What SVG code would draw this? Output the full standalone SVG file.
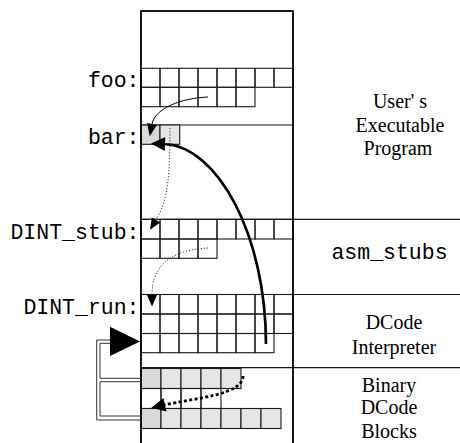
<svg xmlns="http://www.w3.org/2000/svg" width="460" height="443" viewBox="0 0 460 443">
  <style>
    .cell { fill: none; stroke: #1a1a1a; stroke-width: 1.1; }
    .g1 { fill: #d9d9d9; stroke: #1a1a1a; stroke-width: 1.1; }
    .g2 { fill: #e6e6e6; stroke: #1a1a1a; stroke-width: 1.1; }
    .rule { fill: none; stroke: #1a1a1a; stroke-width: 1.2; }
    .frame { fill: none; stroke: #000; stroke-width: 1.8; }
    .mono { font-family: "Liberation Mono", "Courier New", monospace; font-size: 21.5px; fill: #000; }
    .serif { font-family: "Liberation Serif", "Times New Roman", serif; font-size: 20px; fill: #000; text-anchor: middle; }
    .bracket { fill: none; stroke: #333; stroke-width: 1; }
    .thin { fill: none; stroke: #000; stroke-width: 1; }
    .dots { fill: none; stroke: #333; stroke-width: 1; stroke-dasharray: 1.2 1.8; }
    .thick { fill: none; stroke: #000; stroke-width: 2.7; }
    .thickdots { fill: none; stroke: #000; stroke-width: 2.8; stroke-dasharray: 3 2.4; }
  </style>
  <defs>
    <marker id="headThin" markerUnits="userSpaceOnUse" markerWidth="13" markerHeight="12" refX="0" refY="0" orient="auto" overflow="visible">
      <path d="M0,-5 L12.5,0 L0,5 z" fill="#000"/>
    </marker>
    <marker id="headDot" markerUnits="userSpaceOnUse" markerWidth="12" markerHeight="12" refX="0" refY="0" orient="auto" overflow="visible">
      <path d="M0,-5 L11.5,0 L0,5 z" fill="#000"/>
    </marker>
    <marker id="headThick" markerUnits="userSpaceOnUse" markerWidth="14" markerHeight="14" refX="0" refY="0" orient="auto" overflow="visible">
      <path d="M-1,-7 L13,0 L-1,7 z" fill="#000"/>
    </marker>
  </defs>

  <!-- user's executable program: foo and bar -->
  <g id="program">
    <g id="foo">
      <rect class="cell" x="141" y="68.3" width="19" height="19"/>
      <rect class="cell" x="160" y="68.3" width="19" height="19"/>
      <rect class="cell" x="179" y="68.3" width="19" height="19"/>
      <rect class="cell" x="198" y="68.3" width="19" height="19"/>
      <rect class="cell" x="217" y="68.3" width="19" height="19"/>
      <rect class="cell" x="236" y="68.3" width="19" height="19"/>
      <rect class="cell" x="255" y="68.3" width="19" height="19"/>
      <rect class="cell" x="274" y="68.3" width="19" height="19"/>
      <rect class="cell" x="141" y="87.3" width="19" height="19.4"/>
      <rect class="cell" x="160" y="87.3" width="19" height="19.4"/>
      <rect class="cell" x="179" y="87.3" width="19" height="19.4"/>
      <rect class="cell" x="198" y="87.3" width="19" height="19.4"/>
      <rect class="cell" x="217" y="87.3" width="19" height="19.4"/>
      <rect class="cell" x="236" y="87.3" width="19" height="19.4"/>
      <text class="mono" x="139.5" y="86.5" text-anchor="end">foo:</text>
    </g>
    <g id="bar">
      <path class="rule" d="M141 125 H293"/>
      <rect class="g1" x="141" y="125" width="19" height="19.3"/>
      <rect class="g2" x="160" y="125" width="19.7" height="19.3"/>
      <text class="mono" x="139.5" y="143.5" text-anchor="end">bar:</text>
    </g>
    <text class="serif" x="400" y="108.3">User' s</text>
    <text class="serif" x="400" y="131.7">Executable</text>
    <text class="serif" x="398" y="155">Program</text>
  </g>

  <!-- assembly stubs -->
  <g id="asm_stubs">
    <path class="rule" d="M141 219.3 H460"/>
    <rect class="cell" x="141" y="219.3" width="19" height="19.7"/>
    <rect class="cell" x="160" y="219.3" width="19" height="19.7"/>
    <rect class="cell" x="179" y="219.3" width="19" height="19.7"/>
    <rect class="cell" x="198" y="219.3" width="19" height="19.7"/>
    <rect class="cell" x="217" y="219.3" width="19" height="19.7"/>
    <rect class="cell" x="236" y="219.3" width="19" height="19.7"/>
    <rect class="cell" x="255" y="219.3" width="19" height="19.7"/>
    <rect class="cell" x="274" y="219.3" width="19" height="19.7"/>
    <rect class="cell" x="141" y="239" width="19" height="19.3"/>
    <rect class="cell" x="160" y="239" width="19" height="19.3"/>
    <rect class="cell" x="179" y="239" width="19" height="19.3"/>
    <rect class="cell" x="198" y="239" width="19" height="19.3"/>
    <text class="mono" x="139.5" y="238.5" text-anchor="end">DINT_stub:</text>
    <text class="mono" x="389.5" y="259.3" text-anchor="middle">asm_stubs</text>
  </g>

  <!-- DCode interpreter -->
  <g id="interpreter">
    <path class="rule" d="M141 294.5 H460"/>
    <rect class="cell" x="141" y="294.5" width="19" height="19.5"/>
    <rect class="cell" x="160" y="294.5" width="19" height="19.5"/>
    <rect class="cell" x="179" y="294.5" width="19" height="19.5"/>
    <rect class="cell" x="198" y="294.5" width="19" height="19.5"/>
    <rect class="cell" x="217" y="294.5" width="19" height="19.5"/>
    <rect class="cell" x="236" y="294.5" width="19" height="19.5"/>
    <rect class="cell" x="255" y="294.5" width="19" height="19.5"/>
    <rect class="cell" x="274" y="294.5" width="19" height="19.5"/>
    <rect class="cell" x="141" y="314" width="19" height="19.5"/>
    <rect class="cell" x="160" y="314" width="19" height="19.5"/>
    <rect class="cell" x="179" y="314" width="19" height="19.5"/>
    <rect class="cell" x="198" y="314" width="19" height="19.5"/>
    <rect class="cell" x="217" y="314" width="19" height="19.5"/>
    <rect class="cell" x="236" y="314" width="19" height="19.5"/>
    <rect class="cell" x="255" y="314" width="19" height="19.5"/>
    <rect class="cell" x="274" y="314" width="19" height="19.5"/>
    <rect class="cell" x="141" y="333.5" width="19" height="19.2"/>
    <rect class="cell" x="160" y="333.5" width="19" height="19.2"/>
    <rect class="cell" x="179" y="333.5" width="19" height="19.2"/>
    <rect class="cell" x="198" y="333.5" width="19" height="19.2"/>
    <rect class="cell" x="217" y="333.5" width="19" height="19.2"/>
    <rect class="cell" x="236" y="333.5" width="19" height="19.2"/>
    <rect class="cell" x="255" y="333.5" width="19" height="19.2"/>
    <text class="mono" x="139.5" y="313.5" text-anchor="end">DINT_run:</text>
    <text class="serif" x="394" y="329.3">DCode</text>
    <text class="serif" x="394" y="354">Interpreter</text>
  </g>

  <!-- binary DCode blocks -->
  <g id="blocks">
    <path class="rule" d="M141 367.7 H460"/>
    <rect class="g1" x="141" y="368.5" width="20" height="20"/>
    <rect class="g2" x="161" y="368.5" width="20" height="20"/>
    <rect class="g2" x="181" y="368.5" width="20" height="20"/>
    <rect class="g2" x="201" y="368.5" width="20" height="20"/>
    <rect class="g2" x="221" y="368.5" width="20" height="20"/>
    <rect class="cell" x="141" y="388.5" width="20" height="20"/>
    <rect class="cell" x="161" y="388.5" width="20" height="20"/>
    <rect class="cell" x="181" y="388.5" width="20" height="20"/>
    <rect class="cell" x="201" y="388.5" width="20" height="20"/>
    <rect class="g1" x="141" y="408.5" width="20" height="20"/>
    <rect class="g2" x="161" y="408.5" width="20" height="20"/>
    <rect class="g2" x="181" y="408.5" width="20" height="20"/>
    <rect class="g2" x="201" y="408.5" width="20" height="20"/>
    <rect class="g2" x="221" y="408.5" width="20" height="20"/>
    <rect class="g2" x="241" y="408.5" width="20" height="20"/>
    <rect class="g2" x="261" y="408.5" width="20" height="20"/>
    <text class="serif" x="389" y="391.7">Binary</text>
    <text class="serif" x="389" y="413.5">DCode</text>
    <text class="serif" x="389" y="437.5">Blocks</text>
  </g>

  <!-- memory column frame -->
  <rect id="memory" class="frame" x="141" y="11" width="152" height="445"/>

  <!-- control-flow connectors -->
  <g id="connectors">
    <path class="thin" d="M208 97 C182 98 155 108 152 124" marker-end="url(#headThin)"/>
    <path class="thick" d="M266 344 C266 236 218 146 164 144" marker-end="url(#headThick)"/>
    <path class="dots" d="M170 128 C170 175 168 200 156 220" marker-end="url(#headDot)"/>
    <path class="dots" d="M208 248 C175 250 152 262 152 295" marker-end="url(#headDot)"/>
    <path class="thickdots" d="M243 376 C243 395 195 398 164 405" marker-end="url(#headThick)"/>
    <path d="M110 326.7 L140 341.5 L110 356 z" fill="#000"/>
    <path class="bracket" d="M110 340 H96.7 V420 H141"/>
    <path class="bracket" d="M110 343.3 H100 V378.3 H141"/>
    <path class="bracket" d="M141 381.7 H100 V416 H141"/>
  </g>
</svg>
